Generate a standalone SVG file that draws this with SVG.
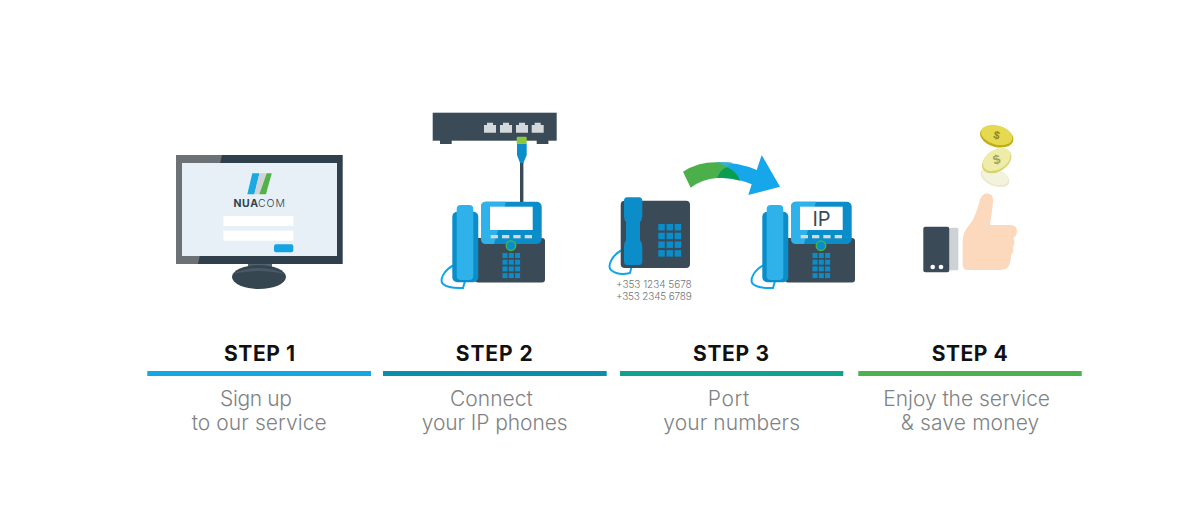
<svg xmlns="http://www.w3.org/2000/svg" xmlns:xlink="http://www.w3.org/1999/xlink" width="1200" height="532" viewBox="0 0 1200 532">
<style>
.title{font-family:"Inter","Liberation Sans",sans-serif;font-weight:700;font-size:21px;fill:#111}
.desc{font-family:"Inter","Lato","Liberation Sans",sans-serif;font-weight:300;font-size:21px;fill:#808285}
.dark{fill:#3b4a57}
.lb{fill:#2fb2ea}
.mb{fill:#0a8dc9}
.key{fill:#0a8dc9}
.btn{fill:#d3d8da}
.cord{fill:none;stroke:#12a5e6;stroke-width:2}
.num{font-family:"Inter","Liberation Sans",sans-serif;font-weight:300;font-size:10px;fill:#6f7478}
.coin{font-family:"Liberation Sans",sans-serif;font-weight:700;text-anchor:middle}
</style>
<defs>
<g id="keys3x4">
<rect x="0" y="0" width="5" height="5"/><rect x="6.3" y="0" width="5" height="5"/><rect x="12.6" y="0" width="5" height="5"/>
<rect x="0" y="6.7" width="5" height="5"/><rect x="6.3" y="6.7" width="5" height="5"/><rect x="12.6" y="6.7" width="5" height="5"/>
<rect x="0" y="13.4" width="5" height="5"/><rect x="6.3" y="13.4" width="5" height="5"/><rect x="12.6" y="13.4" width="5" height="5"/>
<rect x="0" y="20.1" width="5" height="5"/><rect x="6.3" y="20.1" width="5" height="5"/><rect x="12.6" y="20.1" width="5" height="5"/>
</g>
<g id="ipphone">
<path class="cord" d="M454 265C444 270 439 280 443 284C449 289 459 288 463 288L465 281"/>
<rect class="dark" x="475" y="238" width="70" height="44.500" rx="3"/>
<rect class="mb" x="452.300" y="211.700" width="26" height="70.500" rx="5"/>
<rect class="lb" x="456.700" y="205" width="16.600" height="75" rx="4"/>
<rect class="mb" x="481" y="201.700" width="60.700" height="42.300" rx="5"/>
<path class="lb" d="M486 201.700H506L494 244H486Q481 244 481 239V206.700Q481 201.700 486 201.700Z"/>
<rect fill="#fff" x="490" y="206.700" width="42.700" height="23.300"/>
<rect class="btn" x="490.700" y="235" width="7.300" height="3.300"/><rect class="btn" x="502" y="235" width="7.300" height="3.300"/><rect class="btn" x="513.300" y="235" width="7.300" height="3.300"/><rect class="btn" x="524.700" y="235" width="7.300" height="3.300"/>
<circle cx="511" cy="245.700" r="4.700" fill="#0a8dc9" stroke="#3fb54a" stroke-width="1.500"/>
<use xlink:href="#keys3x4" href="#keys3x4" class="key" x="502.500" y="253"/>
</g>
</defs>

<g id="connectors"></g>

<g id="step1-monitor">
<rect x="176" y="155" width="166.700" height="109" fill="#2f3f4b"/>
<path d="M176 155H222L198 264H176Z" fill="#6c7175"/>
<rect x="182" y="163" width="155" height="93" fill="#e7f0f6"/>
<rect x="248" y="264" width="24" height="11" fill="#55636e"/>
<ellipse cx="259" cy="277" rx="27" ry="12" fill="#364651"/>
<path d="M232 274Q259 262 286 274Q270 271 259 271Q246 271 232 274Z" fill="#4a5965"/>
<polygon points="252.300,173.300 259.500,173.300 254.300,194.300 247.300,194.300" fill="#1ba9e1"/>
<polygon points="259.500,173.300 266.700,173.300 259.300,194.300 254.300,194.300" fill="#cfd3d5"/>
<polygon points="266.700,173.300 271.700,173.300 266,194.300 259.300,194.300" fill="#52b248"/>
<text x="233.500" y="207" font-family="Inter,'Liberation Sans',sans-serif" font-size="10.500" font-weight="700" fill="#33424e" textLength="24.500">NUA</text>
<text x="258" y="207" font-family="Inter,'Liberation Sans',sans-serif" font-size="10.500" font-weight="300" fill="#33424e" textLength="27">COM</text>
<rect x="223.300" y="216" width="70" height="10" fill="#fff"/>
<rect x="223.300" y="230.700" width="70" height="10" fill="#fff"/>
<rect x="274" y="244.300" width="19.300" height="8" rx="2" fill="#14a4e4"/>
</g>

<g id="step2-router">
<rect class="dark" x="432.700" y="112.700" width="124" height="28"/>
<rect class="dark" x="440" y="140" width="11.700" height="4"/>
<rect class="dark" x="536.700" y="140" width="11.700" height="4"/>
<path class="btn" d="M484 132.700V125H487V122.700H493V125H496V132.700Z"/>
<path class="btn" d="M500 132.700V125H503V122.700H509V125H512V132.700Z"/>
<path class="btn" d="M516 132.700V125H519V122.700H525V125H528V132.700Z"/>
<path class="btn" d="M531.700 132.700V125H534.700V122.700H540.700V125H543.700V132.700Z"/>
<rect class="dark" x="520" y="160" width="3.400" height="42"/>
<path d="M517 143.500H526.700V155L523.400 163H520L517 155Z" fill="#0a8dc9"/>
<rect x="516.700" y="136.700" width="10" height="7" rx="1" fill="#8cc63f"/>
</g>

<g id="step2-phone">
<use xlink:href="#ipphone" href="#ipphone"/>
</g>

<g id="step3-old-phone">
<path class="cord" d="M622 250C612 255 607 266 611 270C617 275 626 274 630 273L632 265"/>
<rect class="dark" x="620.700" y="200.700" width="69.300" height="67.300" rx="4"/>
<path class="mb" d="M627 197.300H639Q642.300 197.300 642.300 201V216Q642.300 220 640 222V240Q642.300 243 642.300 246V261Q642.300 265 639 265H627Q624 265 624 261V246Q624 243 626 240V222Q624 220 624 216V201Q624 197.300 627 197.300Z"/>
<g class="key">
<use xlink:href="#keys3x4" href="#keys3x4" transform="translate(658.300 224) scale(1.300)"/>
</g>
<text class="num" x="616" y="288" textLength="75.700">+353 1234 5678</text>
<text class="num" x="616" y="300" textLength="75.700">+353 2345 6789</text>
</g>

<g id="step3-arrow">
<path d="M717 162.300Q738 162 756.700 170L761.700 155L780 186.700L748.300 195L751.700 184.300Q735 177 717 178Z" fill="#16a6ea"/>
<path d="M717 162.300Q725 162 732 162.500L727 167.300L717 172Z" fill="#36b0c4"/>
<path d="M683 171.700Q698 162 717 162.300L727 167.300Q720 171 717 178Q702 179 690.700 187.700Z" fill="#4cb04a"/>
<path d="M717 178Q721 169 727 167.300Q737 171 740 180.700Q728 177 717 178Z" fill="#0a9d50"/>
</g>

<g id="step3-phone">
<use xlink:href="#ipphone" href="#ipphone" x="310"/>
<text x="812.500" y="226" font-family="Inter,'Liberation Sans',sans-serif" font-size="20" font-weight="400" fill="#3b4a57" textLength="18">IP</text>
</g>

<g id="step4-hand">
<rect x="949.300" y="227.700" width="9" height="42.600" rx="1.500" fill="#ced2d4"/>
<rect class="dark" x="923.300" y="226.700" width="26" height="45.600" rx="2"/>
<circle cx="932.700" cy="267" r="2.300" fill="#fff"/>
<circle cx="941" cy="267" r="2.300" fill="#fff"/>
<path d="M962.700 265V240Q963 232 970 224Q976 216 979 203Q981 193.500 987 193.300Q994 194 993 202Q992 212 990 225H1010Q1017 225 1017 231Q1017 235 1013.500 238Q1015.500 243 1013 247Q1014 252 1011 255Q1011 263 1008 267Q1006 270 1000 270H968Q963 270 962.700 265Z" fill="#fcd8bd"/>
</g>

<g id="step4-coins">
<ellipse cx="995" cy="177.300" rx="15" ry="8.500" transform="rotate(22 995 177.300)" fill="#e9e7c6"/>
<ellipse cx="995" cy="176.300" rx="14" ry="8" transform="rotate(22 995 176.300)" fill="#f3f2dc"/>
<ellipse cx="996.700" cy="161" rx="16" ry="10.500" transform="rotate(-32 996.700 161)" fill="#d6d36f"/>
<ellipse cx="996.700" cy="159.500" rx="15" ry="10" transform="rotate(-32 996.700 159.500)" fill="#eeeca6"/>
<text class="coin" font-size="13" x="996.700" y="164" fill="#a3a35c" transform="rotate(-15 996.700 160)">$</text>
<ellipse cx="996.700" cy="136.500" rx="17" ry="10.500" transform="rotate(15 996.700 136.500)" fill="#c2ae14"/>
<ellipse cx="996.700" cy="135" rx="16" ry="9.500" transform="rotate(15 996.700 135)" fill="#e5d94f"/>
<text class="coin" font-size="11" x="996.700" y="139" fill="#8f8520" transform="rotate(15 996.700 135)">$</text>
</g>

<g id="step1-label">
<text class="title" x="224" y="361" textLength="71">STEP 1</text>
<rect x="147.300" y="371" width="223.700" height="5" fill="#12a8e2"/>
<text class="desc" x="220" y="405.500" textLength="72">Sign up</text>
<text class="desc" x="191.700" y="430" textLength="135">to our service</text>
</g>
<g id="step2-label">
<text class="title" x="455.700" y="361" textLength="77">STEP 2</text>
<rect x="383" y="371" width="223.700" height="5" fill="#0a8eab"/>
<text class="desc" x="450" y="405.500" textLength="82.700">Connect</text>
<text class="desc" x="421.700" y="430" textLength="146">your IP phones</text>
</g>
<g id="step3-label">
<text class="title" x="693" y="361" textLength="76">STEP 3</text>
<rect x="620" y="371" width="223.300" height="5" fill="#0ea38e"/>
<text class="desc" x="707.700" y="405.500" textLength="41.600">Port</text>
<text class="desc" x="663.300" y="430" textLength="136.700">your numbers</text>
</g>
<g id="step4-label">
<text class="title" x="931.700" y="361" textLength="76">STEP 4</text>
<rect x="858.300" y="371" width="223.400" height="5" fill="#4cb24f"/>
<text class="desc" x="883.300" y="405.500" textLength="166.700">Enjoy the service</text>
<text class="desc" x="900.700" y="430" textLength="138.600">&amp; save money</text>
</g>
</svg>
